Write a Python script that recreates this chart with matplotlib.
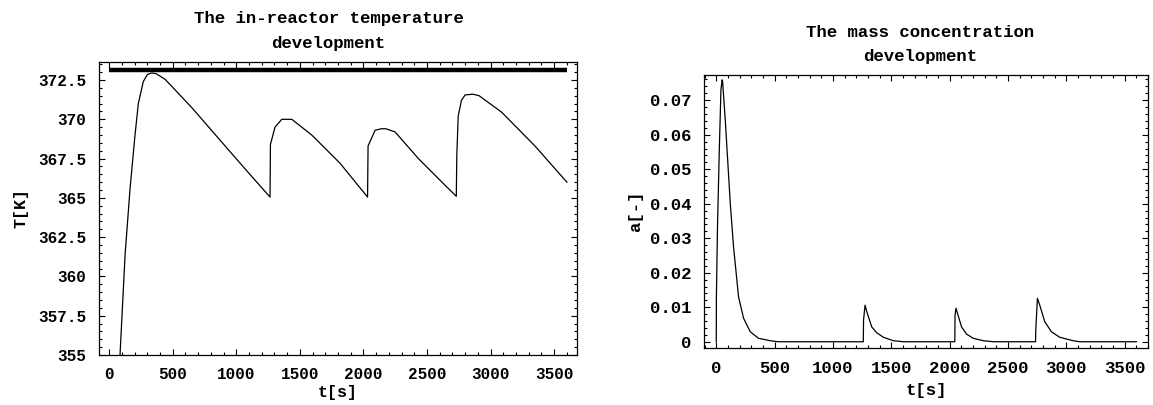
import matplotlib
matplotlib.use("Agg")
import matplotlib.pyplot as plt
import numpy as np
from matplotlib.ticker import MultipleLocator, FuncFormatter

plt.rcParams["font.family"] = ["Liberation Mono", "DejaVu Sans Mono"]
plt.rcParams["font.weight"] = "bold"

# temperature curve, t [s] vs T [K]
temp_t = [0, 85, 125, 164, 203, 229, 268, 300, 335, 370, 439, 649, 885, 1068, 1265,
          1268, 1304, 1357, 1436, 1593, 1816, 2032,
          2036, 2091, 2140, 2175, 2248, 2432, 2642, 2730,
          2734, 2745, 2770, 2799, 2860, 2910, 3087, 3349, 3600]
temp_T = [341.0, 355.0, 361.4, 365.6, 369.0, 371.0, 372.4, 372.85, 372.95, 372.9, 372.55, 370.75, 368.55, 366.85, 365.05,
          368.4, 369.5, 370.0, 370.0, 369.0, 367.2, 365.05,
          368.3, 369.3, 369.4, 369.4, 369.2, 367.5, 365.8, 365.1,
          367.7, 370.2, 371.2, 371.55, 371.6, 371.5, 370.45, 368.3, 366.0]
boiling_T = 373.15
boiling_t = [0, 3600]

# mass concentration curve, t [s] vs a [-]
conc_t = [0, 1, 11, 26, 40, 50, 54, 77, 120, 148, 191, 234, 291, 362, 462, 531,
          1260, 1262, 1275, 1290, 1332, 1375, 1432, 1517, 1603,
          2044, 2046, 2054, 2102, 2145, 2202, 2288, 2374,
          2736, 2738, 2752, 2772, 2815, 2872, 2943, 3057, 3114, 3600]
conc_a = [0, 0.013, 0.0343, 0.0556, 0.073, 0.0759, 0.0755, 0.0643, 0.0401, 0.0275, 0.013, 0.0068, 0.0029, 0.001, 0.0003, 0,
          0, 0.0063, 0.0106, 0.0087, 0.0043, 0.0026, 0.0013, 0.0003, 0,
          0, 0.0077, 0.0097, 0.0043, 0.0022, 0.001, 0.0003, 0,
          0, 0.0034, 0.0126, 0.0106, 0.0058, 0.0029, 0.0013, 0.0003, 0, 0]

temp_ticks = [355, 357.5, 360, 362.5, 365, 367.5, 370, 372.5]
conc_ticks = [0, 0.01, 0.02, 0.03, 0.04, 0.05, 0.06, 0.07]
time_ticks = [0, 500, 1000, 1500, 2000, 2500, 3000, 3500]


def num_label(v, pos=None):
    return f"{v:.3f}".rstrip("0").rstrip(".")


def style_axes(ax, size):
    ax.tick_params(which="both", direction="in", top=True, right=True,
                   labelsize=size, width=0.8, colors="black")
    ax.tick_params(which="major", length=4, pad=9)
    ax.tick_params(which="minor", length=2)
    for sp in ax.spines.values():
        sp.set_linewidth(0.9)
    for lab in ax.get_xticklabels() + ax.get_yticklabels():
        lab.set_fontweight("bold")


fig = plt.figure(figsize=(11.53, 4.05), dpi=100)

ax1 = fig.add_axes([0.0859, 0.1235, 0.4146, 0.7235])
ax1.plot(boiling_t, [boiling_T, boiling_T], color="black", lw=3.2, solid_capstyle="butt")
ax1.plot(temp_t, temp_T, color="black", lw=0.9)
ax1.set_xlim(-80, 3680)
ax1.set_ylim(355, 373.65)
ax1.set_xticks(time_ticks)
ax1.set_yticks(temp_ticks)
ax1.xaxis.set_minor_locator(MultipleLocator(100))
ax1.yaxis.set_minor_locator(MultipleLocator(0.5))
ax1.xaxis.set_major_formatter(FuncFormatter(num_label))
ax1.yaxis.set_major_formatter(FuncFormatter(num_label))
style_axes(ax1, 11.5)
ax1.set_title("The in-reactor temperature\ndevelopment", fontsize=12.5, fontweight="bold",
              linespacing=1.85, pad=10, x=0.48)
ax1.set_xlabel("t[s]", fontsize=12, fontweight="bold", labelpad=2)
ax1.set_ylabel("T[K]", fontsize=12, fontweight="bold", labelpad=7)

ax2 = fig.add_axes([0.6106, 0.14, 0.3851, 0.6748])
ax2.plot(conc_t, conc_a, color="black", lw=0.9)
ax2.set_xlim(-105, 3700)
ax2.set_ylim(-0.0019, 0.0773)
ax2.set_xticks(time_ticks)
ax2.set_yticks(conc_ticks)
ax2.xaxis.set_minor_locator(MultipleLocator(100))
ax2.yaxis.set_minor_locator(MultipleLocator(0.002))
ax2.xaxis.set_major_formatter(FuncFormatter(num_label))
ax2.yaxis.set_major_formatter(FuncFormatter(num_label))
style_axes(ax2, 12.5)
ax2.set_title("The mass concentration\ndevelopment", fontsize=12.5, fontweight="bold",
              linespacing=1.8, pad=10, x=0.486)
ax2.set_xlabel("t[s]", fontsize=12.5, fontweight="bold", labelpad=5)
ax2.set_ylabel("a[-]", fontsize=12.5, fontweight="bold", labelpad=5)

fig.savefig("out.png", dpi=100)
